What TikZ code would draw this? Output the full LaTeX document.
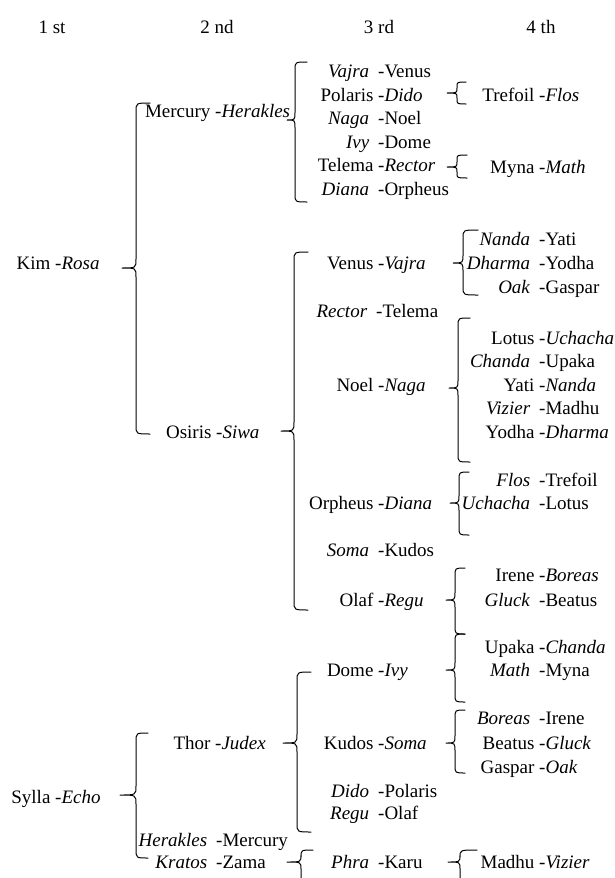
\documentclass[tikz,border=0pt]{standalone}
\usepackage{fontspec}
\setmainfont{Liberation Serif}
% left part right-aligned against the hyphen, right part after it
\newcommand\pr[2]{\llap{#1\hspace{4.75pt}}-#2}
% same, with the wider gap that follows an italic left part
\newcommand\pri[2]{\llap{\textit{#1}\hspace{9pt}}-#2}
% curly brace: vertical x, top y, tip x, tip y, bottom y, hook end x, curl radius
\newcommand\cbrace[7]{%
  \draw[brace] (#6,#2) .. controls (#1,#2) .. (#1,#2+#7) -- (#1,#4-#7)
    .. controls (#1,#4) .. (#3,#4) .. controls (#1,#4) .. (#1,#4+#7)
    -- (#1,#5-#7) .. controls (#1,#5) .. (#6,#5);}
\begin{document}
\begin{tikzpicture}[x=1pt,y=-1pt,
  pair/.style={anchor=base west, inner sep=0pt, font=\fontsize{19}{23}\selectfont},
  head/.style={anchor=base, inner sep=0pt, font=\fontsize{19}{23}\selectfont},
  brace/.style={line width=1pt, line join=round, line cap=round}]
\useasboundingbox (0,0) rectangle (615,878);
\clip (0,0) rectangle (615,878);

% column headings
\node[head] (h1) at (52,33) {1 st};
\node[head] (h2) at (217,33) {2 nd};
\node[head] (h3) at (379,33) {3 rd};
\node[head] (h4) at (541,33) {4 th};

% first column
\node[pair] (kim)   at (55,269) {\pr{Kim}{\textit{Rosa}}};
\node[pair] (sylla) at (55,803) {\pr{Sylla}{\textit{Echo}}};

% second column
\node[pair] (mercury)  at (215,117) {\pr{Mercury}{\textit{Herakles}}};
\node[pair] (osiris)   at (216,438) {\pr{Osiris}{\textit{Siwa}}};
\node[pair] (thor)     at (215,749) {\pr{Thor}{\textit{Judex}}};
\node[pair] (herakles) at (216,846) {\pri{Herakles}{Mercury}};
\node[pair] (kratos)   at (216,868) {\pri{Kratos}{Zama}};

% third column
\node[pair] (vajra)   at (378,77)  {\pri{Vajra}{Venus}};
\node[pair] (polaris) at (378,101) {\pr{Polaris}{\textit{Dido}}};
\node[pair] (naga)    at (378,124) {\pri{Naga}{Noel}};
\node[pair] (ivy)     at (378,148) {\pri{Ivy}{Dome}};
\node[pair] (telema)  at (378,171) {\pr{Telema}{\textit{Rector}}};
\node[pair] (diana)   at (378,195) {\pri{Diana}{Orpheus}};
\node[pair] (venus)   at (378,269) {\pr{Venus}{\textit{Vajra}}};
\node[pair] (rector)  at (376,317) {\pri{Rector}{Telema}};
\node[pair] (noel)    at (378,391) {\pr{Noel}{\textit{Naga}}};
\node[pair] (orpheus) at (378,509) {\pr{Orpheus}{\textit{Diana}}};
\node[pair] (soma)    at (378,556) {\pri{Soma}{Kudos}};
\node[pair] (olaf)    at (378,606) {\pr{Olaf}{\textit{Regu}}};
\node[pair] (dome)    at (378,676) {\pr{Dome}{\textit{Ivy}}};
\node[pair] (kudos)   at (378,749) {\pr{Kudos}{\textit{Soma}}};
\node[pair] (dido)    at (378,797) {\pri{Dido}{Polaris}};
\node[pair] (regu)    at (378,819) {\pri{Regu}{Olaf}};
\node[pair] (phra)    at (378,868) {\pri{Phra}{Karu}};

% fourth column
\node[pair] (trefoil) at (539,101) {\pr{Trefoil}{\textit{Flos}}};
\node[pair] (myna)    at (539,173) {\pr{Myna}{\textit{Math}}};
\node[pair] (nanda)   at (539,245) {\pri{Nanda}{Yati}};
\node[pair] (dharma)  at (539,269) {\pri{Dharma}{Yodha}};
\node[pair] (oak)     at (539,293) {\pri{Oak}{Gaspar}};
\node[pair] (lotus)   at (539,344) {\pr{Lotus}{\textit{Uchacha}}};
\node[pair] (chanda)  at (539,367) {\pri{Chanda}{Upaka}};
\node[pair] (yati)    at (539,391) {\pr{Yati}{\textit{Nanda}}};
\node[pair] (vizier)  at (539,414) {\pri{Vizier}{Madhu}};
\node[pair] (yodha)   at (539,438) {\pr{Yodha}{\textit{Dharma}}};
\node[pair] (flos)    at (539,486) {\pri{Flos}{Trefoil}};
\node[pair] (uchacha) at (539,509) {\pri{Uchacha}{Lotus}};
\node[pair] (irene)   at (539,581) {\pr{Irene}{\textit{Boreas}}};
\node[pair] (gluck)   at (539,606) {\pri{Gluck}{Beatus}};
\node[pair] (upaka)   at (539,653) {\pr{Upaka}{\textit{Chanda}}};
\node[pair] (math)    at (539,676) {\pri{Math}{Myna}};
\node[pair] (boreas)  at (539,724) {\pri{Boreas}{Irene}};
\node[pair] (beatus)  at (539,749) {\pr{Beatus}{\textit{Gluck}}};
\node[pair] (gaspar)  at (539,773) {\pr{Gaspar}{\textit{Oak}}};
\node[pair] (madhu)   at (539,868) {\pr{Madhu}{\textit{Vizier}}};

% braces from the first column
\cbrace{136}{103}{122}{268}{434}{150}{9}
\cbrace{136}{733}{120}{795}{858}{148}{9}

% braces from the second column
\cbrace{295}{62}{287}{120}{202}{307}{8}
\cbrace{294}{252}{281}{431}{610}{308}{9}
\cbrace{297}{672}{283}{743}{832}{311}{9}
\cbrace{301}{850}{287}{862}{910}{313}{7}

% braces from the third column
\cbrace{457}{82}{447}{93}{104}{466}{5}
\cbrace{457}{155}{447}{167}{178}{467}{5}
\cbrace{463}{230}{453}{263}{295}{478}{8}
\cbrace{458}{318}{449}{388}{462}{470}{8}
\cbrace{459}{472}{450}{503}{535}{469}{8}
\cbrace{455}{568}{446}{600}{634}{465}{8}
\cbrace{455}{634}{446}{670}{702}{465}{8}
\cbrace{455}{710}{446}{743}{773}{465}{8}
\cbrace{460}{850}{448}{862}{910}{477}{7}
\end{tikzpicture}
\end{document}
